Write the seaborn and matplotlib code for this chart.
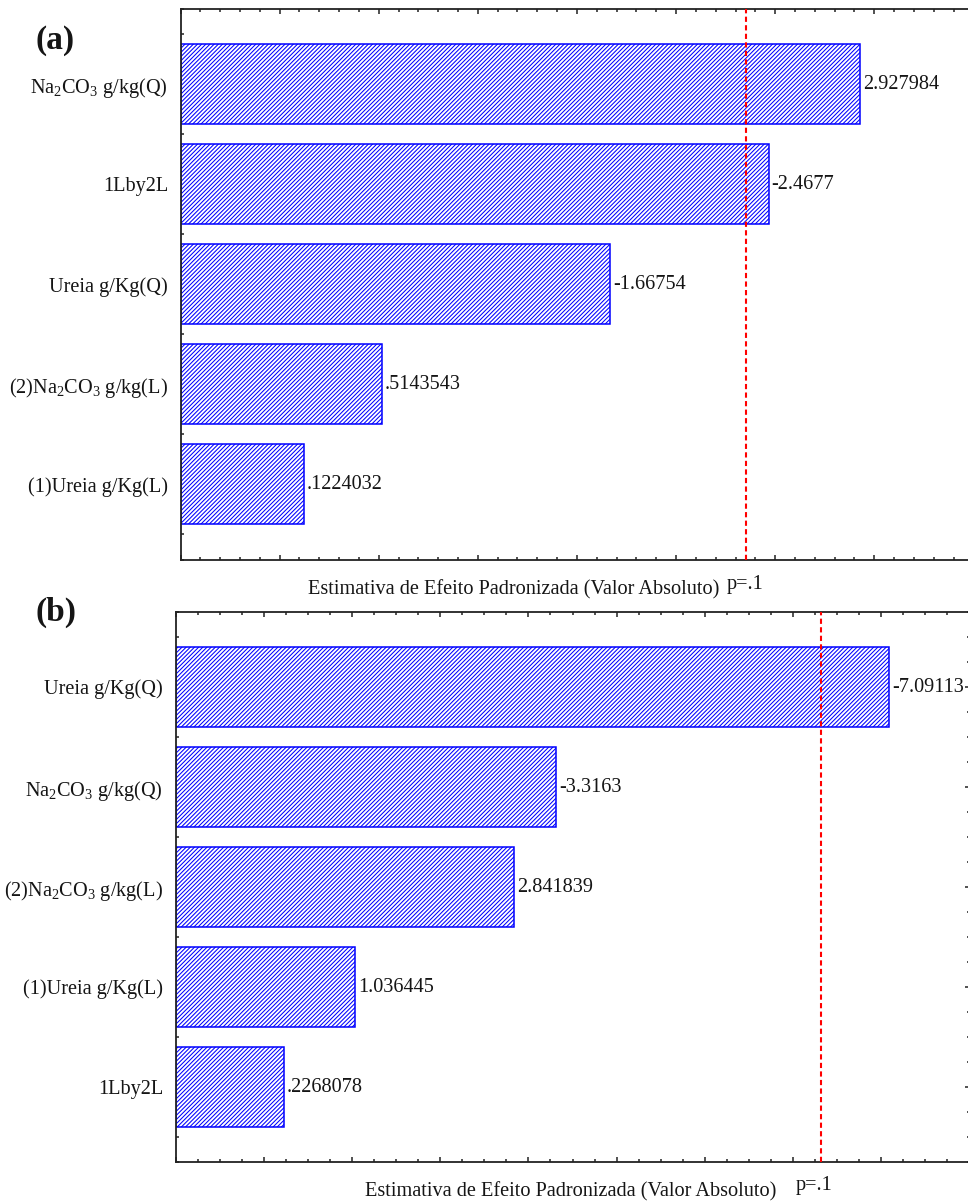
import numpy as np
import pandas as pd
import matplotlib
matplotlib.use("Agg")
import matplotlib.pyplot as plt
from matplotlib.ticker import MultipleLocator, FixedLocator
import seaborn as sns

# Pareto chart data: standardized effects, ordered by absolute value
terms_a = [r"Na$_2$CO$_3$ g/kg(Q)", "1Lby2L", "Ureia g/Kg(Q)",
           r"(2)Na$_2$CO$_3$ g/kg(L)", "(1)Ureia g/Kg(L)"]
effects_a = [2.927984, -2.4677, -1.66754, 0.5143543, 0.1224032]

terms_b = ["Ureia g/Kg(Q)", r"Na$_2$CO$_3$ g/kg(Q)", r"(2)Na$_2$CO$_3$ g/kg(L)",
           "(1)Ureia g/Kg(L)", "1Lby2L"]
effects_b = [-7.09113, -3.3163, 2.841839, 1.036445, 0.2268078]

# critical t values at p = .1
t_crit_a = 2.353363
t_crit_b = 6.313752

xlabel_text = "Estimativa de Efeito Padronizada (Valor Absoluto)"
p_text = "p=.1"

sns.set_theme(style="ticks")
plt.rcParams["font.family"] = ["Liberation Serif", "DejaVu Serif"]
plt.rcParams["mathtext.fontset"] = "custom"
plt.rcParams["mathtext.rm"] = "Liberation Serif"
plt.rcParams["mathtext.it"] = "Liberation Serif:italic"
plt.rcParams["mathtext.bf"] = "Liberation Serif:bold"
plt.rcParams["hatch.linewidth"] = 0.75

TXT = "#151515"
BLUE = "#0000ff"
FS = 14.6
W, H = 968, 1202


def fmt(v):
    s = f"{v:.7g}"
    if s.startswith("0."):
        s = s[1:]
    return s


def pareto(ax, terms, effects, tcrit, xlim, major, minor):
    df = pd.DataFrame({"term": terms, "effect": np.abs(effects)})
    sns.barplot(data=df, x="effect", y="term", order=terms, orient="h",
                width=0.8, color="white", saturation=1, ax=ax, errorbar=None)
    x0 = xlim[0]
    for p in ax.patches:
        w = p.get_width()
        p.set_x(x0)
        p.set_width(w - x0)
        p.set_facecolor("white")
        p.set_edgecolor(BLUE)
        p.set_linewidth(1.1)
        p.set_hatch("////////")
    for i, v in enumerate(effects):
        ax.annotate(fmt(v), xy=(abs(v), i), xytext=(2, 0),
                    textcoords="offset points", ha="left", va="center",
                    fontsize=FS, color=TXT)
    ax.axvline(tcrit, color="red", lw=1.5, ls=(0, (2.5, 1.6)), zorder=5)
    ax.set_xlim(*xlim)
    ax.set_ylim(len(terms) - 0.25, -0.75)
    ax.xaxis.set_major_locator(MultipleLocator(major))
    ax.xaxis.set_minor_locator(MultipleLocator(minor))
    ax.yaxis.set_major_locator(FixedLocator(range(len(terms))))
    ax.yaxis.set_minor_locator(MultipleLocator(0.25))
    ax.tick_params(which="both", direction="in", top=True, right=True,
                   bottom=True, left=True, labelbottom=False, labeltop=False,
                   color="#222222", width=1.1)
    ax.tick_params(which="major", length=3.8)
    ax.tick_params(which="minor", length=2.3)
    ax.tick_params(axis="y", which="major", labelsize=FS, pad=9,
                   labelcolor=TXT)
    ax.set_xlabel("")
    ax.set_ylabel("")
    for s in ax.spines.values():
        s.set_visible(True)
        s.set_linewidth(1.3)
        s.set_color("#222222")


fig = plt.figure(figsize=(W / 100, H / 100), dpi=100)

ax_a = fig.add_axes([180.5 / W, 1 - 559.5 / H, (973.4 - 180.5) / W, (559.5 - 9) / H])
ax_b = fig.add_axes([175.5 / W, 1 - 1162 / H, (969.5 - 175.5) / W, (1162 - 612) / H])

pareto(ax_a, terms_a, effects_a, t_crit_a, (-0.5, 3.5), 0.5, 0.1)
pareto(ax_b, terms_b, effects_b, t_crit_b, (-1.0, 8.0), 1.0, 0.25)

# axis captions under each panel
fig.text(514 / W, 1 - 590 / H, xlabel_text, ha="center", va="center",
         fontsize=FS, color=TXT)
fig.text(570.5 / W, 1 - 1192 / H, xlabel_text, ha="center", va="center",
         fontsize=FS, color=TXT)
ax_a.annotate(p_text, xy=(t_crit_a, 0), xycoords=("data", "axes fraction"),
              xytext=(-1, -18), textcoords="offset points", ha="center",
              va="center", fontsize=FS, color=TXT)
ax_b.annotate(p_text, xy=(t_crit_b, 0), xycoords=("data", "axes fraction"),
              xytext=(-5, -17), textcoords="offset points", ha="center",
              va="center", fontsize=FS, color=TXT)

# panel letters
fig.text(55 / W, 1 - 41 / H, "(a)", ha="center", va="center",
         fontsize=24, fontweight="bold", color=TXT)
fig.text(56 / W, 1 - 612 / H, "(b)", ha="center", va="center",
         fontsize=24, fontweight="bold", color=TXT)

fig.savefig("out.png", dpi=100)
